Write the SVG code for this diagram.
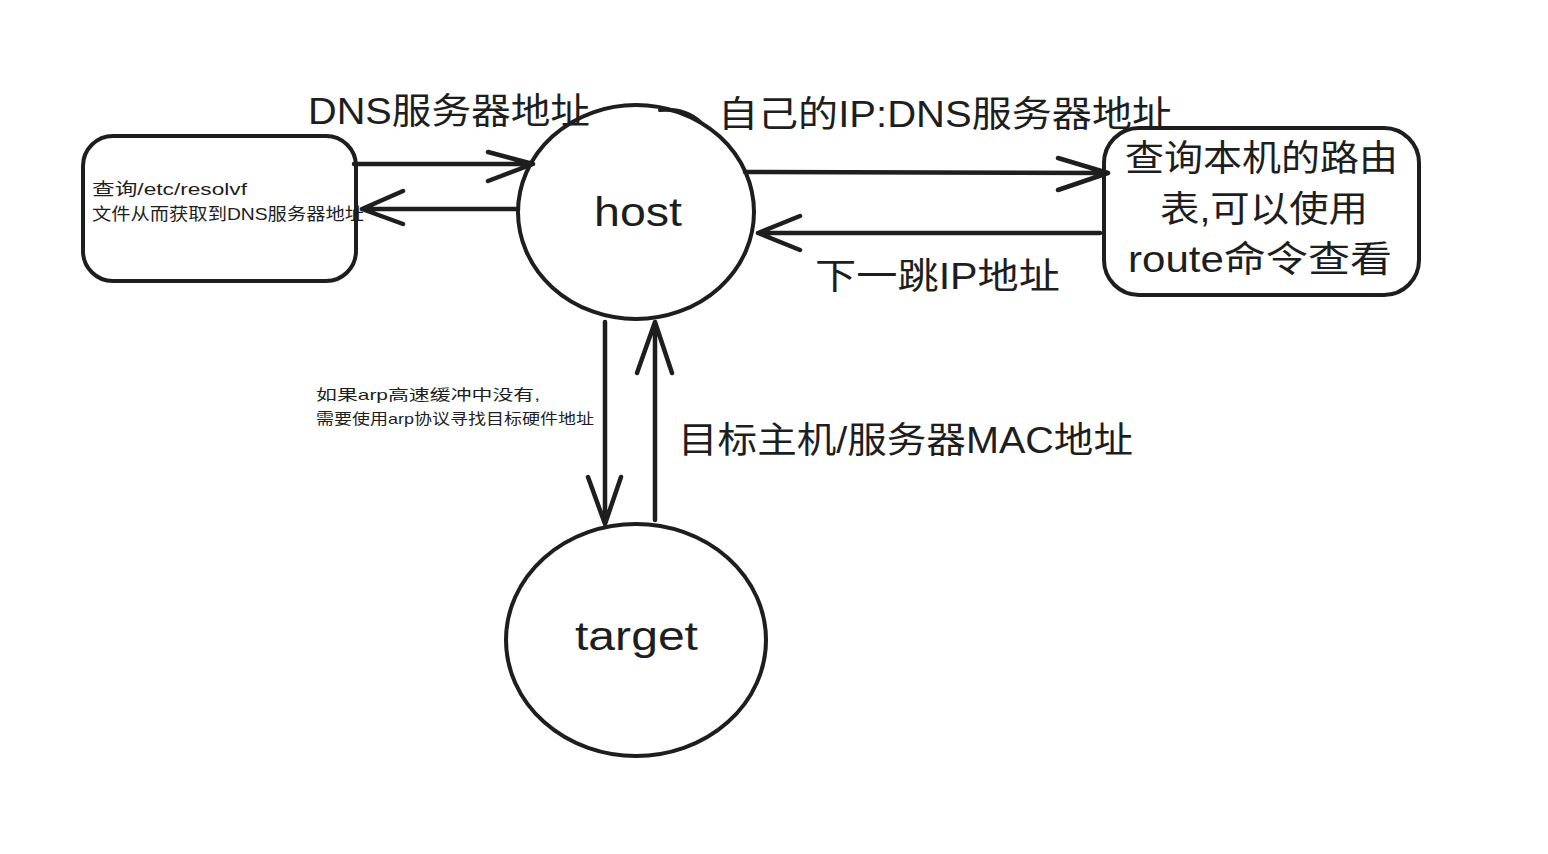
<svg xmlns="http://www.w3.org/2000/svg" width="1548" height="854" viewBox="0 0 1548 854">
<style>
.shape{fill:none;stroke:#1e1e1e;stroke-width:4;stroke-linecap:round;stroke-linejoin:round}
.edge{fill:none;stroke:#1e1e1e;stroke-width:4.5;stroke-linecap:round;stroke-linejoin:round}
.t{font-family:"Liberation Sans","Noto Sans CJK SC",sans-serif;fill:#1e1e1e}
.big{font-size:36px}
.small{font-size:17px}
.tiny{font-size:15px}
</style>
<rect width="1548" height="854" fill="#ffffff"/>
<g id="resolv-box">
<rect class="shape" x="83" y="136" width="273" height="145" rx="30"/>
<text class="t small" x="92" y="195" textLength="155" lengthAdjust="spacingAndGlyphs">查询/etc/resolvf</text>
<text class="t small" x="92" y="220" textLength="272" lengthAdjust="spacingAndGlyphs">文件从而获取到DNS服务器地址</text>
</g>
<g id="host">
<ellipse class="shape" cx="636" cy="212" rx="118" ry="107"/>
<path class="shape" d="M660 110 Q685 108 700 122" stroke-width="3"/>
<text class="t" x="594" y="226" font-size="40" textLength="88" lengthAdjust="spacingAndGlyphs">host</text>
</g>
<g id="route-box">
<rect class="shape" x="1104" y="128" width="315" height="167" rx="35"/>
<text class="t big" x="1125" y="171" textLength="273" lengthAdjust="spacingAndGlyphs">查询本机的路由</text>
<text class="t big" x="1160" y="222" textLength="208" lengthAdjust="spacingAndGlyphs">表,可以使用</text>
<text class="t big" x="1128" y="272" textLength="264" lengthAdjust="spacingAndGlyphs">route命令查看</text>
</g>
<g id="target">
<ellipse class="shape" cx="636" cy="640" rx="130" ry="116"/>
<text class="t" x="575" y="650" font-size="40" textLength="123" lengthAdjust="spacingAndGlyphs">target</text>
</g>
<g id="connectors">
<path class="edge" d="M354 164 L533 164 M488 152 L533 164 L488 181"/>
<path class="edge" d="M518 209 L362 209 M403 191 L362 209 L403 224"/>
<path class="edge" d="M745 172 L1108 173 M1058 158 L1108 173 L1058 190" stroke-width="6"/>
<path class="edge" d="M1100 233 L758 233 M800 216 L758 233 L800 250"/>
<path class="edge" d="M605 322 L605 524 M588 477 L605 524 L621 477"/>
<path class="edge" d="M655 520 L655 322 M637 373 L655 322 L672 373" stroke-width="5"/>
</g>
<g id="labels">
<text class="t big" x="308" y="124" textLength="282" lengthAdjust="spacingAndGlyphs">DNS服务器地址</text>
<text class="t big" x="718" y="127" textLength="454" lengthAdjust="spacingAndGlyphs">自己的IP:DNS服务器地址</text>
<text class="t big" x="815" y="289" textLength="245" lengthAdjust="spacingAndGlyphs">下一跳IP地址</text>
<text class="t big" x="678" y="453" textLength="455" lengthAdjust="spacingAndGlyphs">目标主机/服务器MAC地址</text>
<text class="t tiny" x="316" y="400" textLength="224" lengthAdjust="spacingAndGlyphs">如果arp高速缓冲中没有,</text>
<text class="t tiny" x="316" y="424" textLength="278" lengthAdjust="spacingAndGlyphs">需要使用arp协议寻找目标硬件地址</text>
</g>
</svg>
